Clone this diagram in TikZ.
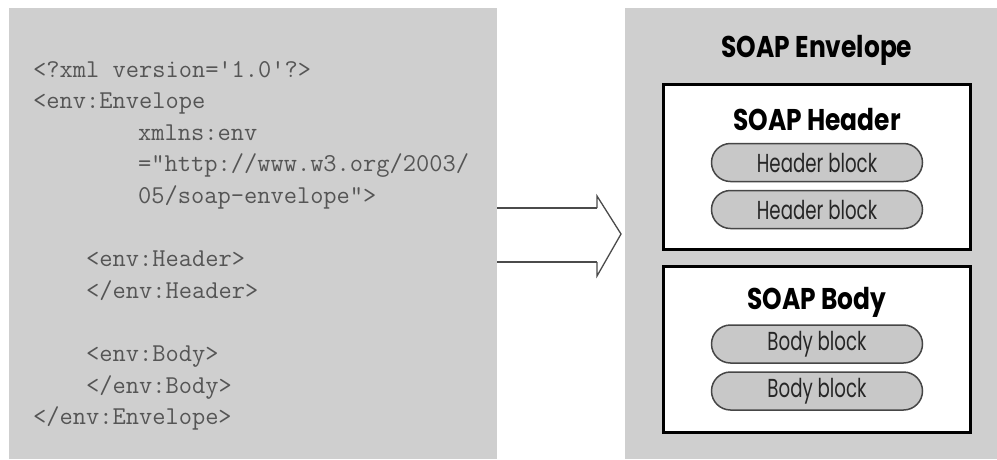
\documentclass[tikz,border=0pt]{standalone}
\usepackage{fontspec}
\setmainfont{Poppins}
\newfontfamily\codefont{Latin Modern Mono}
\newfontfamily\titlefont[FakeStretch=0.83]{Poppins}
\newfontfamily\pillfont[FakeStretch=0.70]{Poppins}
\definecolor{panelgray}{RGB}{207,207,207}
\definecolor{codegray}{RGB}{85,85,85}
\definecolor{pillgray}{RGB}{200,200,200}
\definecolor{pilledge}{RGB}{70,70,70}
\definecolor{arrowgray}{RGB}{75,75,75}
\usetikzlibrary{shapes.misc}
\tikzset{
  panel/.style={fill=panelgray, draw=none},
  code/.style={anchor=base west, inner sep=0pt, text=codegray, font=\codefont\fontsize{25.7}{25.7}\selectfont},
  boxframe/.style={draw=black, line width=3pt, fill=white},
  pill/.style={draw=pilledge, line width=1.5pt, fill=pillgray, rounded rectangle, minimum width=211pt, minimum height=38pt, inner sep=0pt,
     font=\pillfont\fontsize{26}{26}\selectfont, text=black!85},
  heading/.style={inner sep=0pt, font=\titlefont\bfseries\fontsize{30}{30}\selectfont, text=black},
}
\begin{document}
\begin{tikzpicture}[x=1pt,y=-1pt]
\useasboundingbox (0,0) rectangle (997,459);
\fill[white] (0,0) rectangle (997,459);
% panels
\fill[panel] (9,8) rectangle (497,459);
\fill[panel] (625,8) rectangle (997,459);
% code
\node[code] (l1) at (33,77) {<?xml version='1.0'?>};
\node[code] (l2) at (33,108.6) {<env:Envelope};
\node[code] (l3) at (138,140.2) {xmlns:env};
\node[code] (l4) at (138,171.8) {="http://www.w3.org/2003/};
\node[code] (l5) at (138,203.4) {05/soap-envelope">};
\node[code] (l6) at (86,266.6) {<env:Header>};
\node[code] (l7) at (86,298.2) {</env:Header>};
\node[code] (l8) at (86,361.4) {<env:Body>};
\node[code] (l9) at (86,393) {</env:Body>};
\node[code] (l10) at (33,424.6) {</env:Envelope>};
% arrow
\coordinate (a1) at (497,208);
\coordinate (a2) at (597,208);
\coordinate (a3) at (597,196);
\coordinate (tip) at (621,234);
\coordinate (a4) at (597,276);
\coordinate (a5) at (597,262);
\coordinate (a6) at (497,262);
\fill[white] (a1) -- (a2) -- (a3) -- (tip) -- (a4) -- (a5) -- (a6) -- cycle;
\draw[arrowgray, line width=2.8pt] (a1) -- (a2);
\draw[arrowgray, line width=2.8pt] (a6) -- (a5);
\draw[arrowgray, line width=1.3pt, line join=miter] (a2) -- (a3) -- (tip) -- (a4) -- (a5);
% right side
\node[heading] (env) at (817,50) {SOAP Envelope};
\draw[boxframe] (663,84) rectangle (970,249);
\node[heading] (hdr) at (817,120) {SOAP Header};
\node[pill] (hb1) at (817,162.5) {Header block};
\node[pill] (hb2) at (817,209.5) {Header block};
\draw[boxframe] (663,266) rectangle (970,432);
\node[heading] (bdy) at (817,302) {SOAP Body};
\node[pill] (bb1) at (817,344) {Body block};
\node[pill] (bb2) at (817,391) {Body block};
\end{tikzpicture}
\end{document}
